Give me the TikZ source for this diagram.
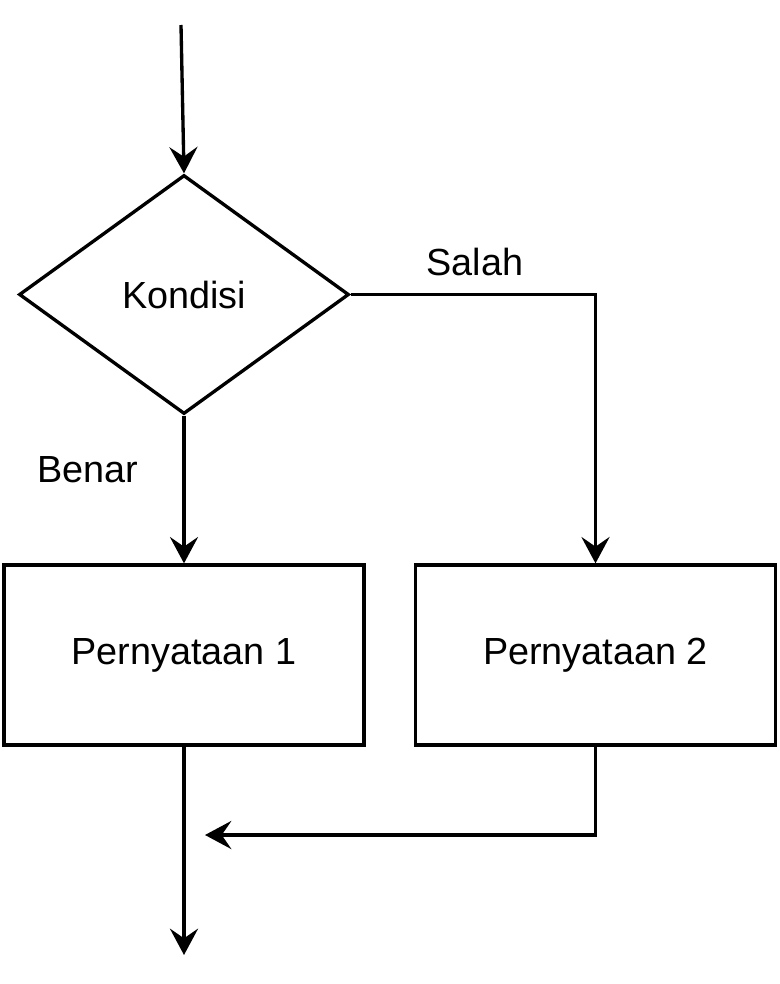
\documentclass[tikz,border=0pt]{standalone}
\usepackage{fontspec}
\setmainfont{Liberation Sans}
\usetikzlibrary{positioning,arrows.meta,shapes.geometric}
\tikzset{>={Stealth[length=15pt,width=16pt,inset=5.5pt]}}
\tikzset{
  flow/.style={line width=1.9pt},
  decision/.style={diamond,draw,flow,minimum width=6.6cm,minimum height=4.78cm,inner sep=0pt},
  stmt/.style={rectangle,draw,flow,minimum width=7.2cm,minimum height=3.6cm},
  lbl/.style={inner sep=0pt}
}

\begin{document}
\begin{tikzpicture}[x=0.02cm,y=-0.02cm,font=\fontsize{21.5}{25}\selectfont]
\useasboundingbox (0,0) rectangle (780,984);
\coordinate (start) at (181,25);
\coordinate (stop) at (184,955);
\coordinate (merge) at (205,835);
\node[decision] (kond) at (184,294.5) {Kondisi};
\node[stmt] (stmt1) at (184,655) {Pernyataan 1};
\node[stmt] (stmt2) at (595.5,655) {Pernyataan 2};
\node[lbl] (salah) at (475,262) {Salah};
\node[lbl] (benar) at (88,470) {Benar};
\draw[flow,->] (start) -- (kond.north);
\draw[flow,->] (kond.east) -| (stmt2.north);
\draw[flow,->] (kond.south) -- (stmt1.north);
\draw[flow,->] (stmt1.south) -- (stop);
\draw[flow,->] (stmt2.south) |- (merge);
\end{tikzpicture}
\end{document}
